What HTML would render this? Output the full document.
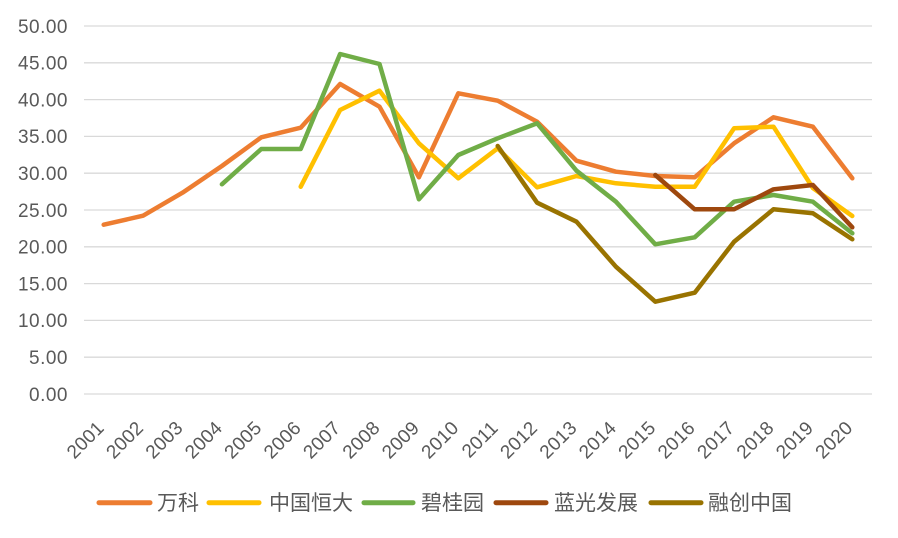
<!DOCTYPE html>
<html>
<head>
<meta charset="utf-8">
<style>
  html,body{margin:0;padding:0;background:#fff;}
  svg{display:block;}
  .yl{font-family:"Liberation Sans",sans-serif;font-size:19px;letter-spacing:0.5px;fill:#595959;text-anchor:end;}
  .xl{font-family:"Liberation Sans",sans-serif;font-size:19px;letter-spacing:0.3px;fill:#595959;text-anchor:end;}
  .lg{font-family:"Liberation Sans","Noto Sans CJK SC",sans-serif;font-size:21px;fill:#595959;}
  .s{fill:none;stroke-width:4.5;stroke-linejoin:round;stroke-linecap:round;}
</style>
</head>
<body>
<svg width="898" height="538" viewBox="0 0 898 538" xmlns="http://www.w3.org/2000/svg">
  <rect width="898" height="538" fill="#fff"/>
  <g stroke="#d9d9d9" stroke-width="1.3">
    <line x1="84" x2="872" y1="394" y2="394"/>
    <line x1="84" x2="872" y1="357.2" y2="357.2"/>
    <line x1="84" x2="872" y1="320.4" y2="320.4"/>
    <line x1="84" x2="872" y1="283.6" y2="283.6"/>
    <line x1="84" x2="872" y1="246.8" y2="246.8"/>
    <line x1="84" x2="872" y1="210" y2="210"/>
    <line x1="84" x2="872" y1="173.2" y2="173.2"/>
    <line x1="84" x2="872" y1="136.4" y2="136.4"/>
    <line x1="84" x2="872" y1="99.6" y2="99.6"/>
    <line x1="84" x2="872" y1="62.8" y2="62.8"/>
    <line x1="84" x2="872" y1="26" y2="26"/>
  </g>
  <g class="yl">
    <text x="68" y="400.8">0.00</text>
    <text x="68" y="364">5.00</text>
    <text x="68" y="327.2">10.00</text>
    <text x="68" y="290.4">15.00</text>
    <text x="68" y="253.6">20.00</text>
    <text x="68" y="216.8">25.00</text>
    <text x="68" y="180">30.00</text>
    <text x="68" y="143.2">35.00</text>
    <text x="68" y="106.4">40.00</text>
    <text x="68" y="69.6">45.00</text>
    <text x="68" y="32.8">50.00</text>
  </g>
  <g class="xl">
    <text x="105.2" y="429" transform="rotate(-45 105.2 429)">2001</text>
    <text x="144.6" y="429" transform="rotate(-45 144.6 429)">2002</text>
    <text x="184" y="429" transform="rotate(-45 184 429)">2003</text>
    <text x="223.4" y="429" transform="rotate(-45 223.4 429)">2004</text>
    <text x="262.8" y="429" transform="rotate(-45 262.8 429)">2005</text>
    <text x="302.2" y="429" transform="rotate(-45 302.2 429)">2006</text>
    <text x="341.6" y="429" transform="rotate(-45 341.6 429)">2007</text>
    <text x="381" y="429" transform="rotate(-45 381 429)">2008</text>
    <text x="420.4" y="429" transform="rotate(-45 420.4 429)">2009</text>
    <text x="459.8" y="429" transform="rotate(-45 459.8 429)">2010</text>
    <text x="499.2" y="429" transform="rotate(-45 499.2 429)">2011</text>
    <text x="538.6" y="429" transform="rotate(-45 538.6 429)">2012</text>
    <text x="578" y="429" transform="rotate(-45 578 429)">2013</text>
    <text x="617.4" y="429" transform="rotate(-45 617.4 429)">2014</text>
    <text x="656.8" y="429" transform="rotate(-45 656.8 429)">2015</text>
    <text x="696.2" y="429" transform="rotate(-45 696.2 429)">2016</text>
    <text x="735.6" y="429" transform="rotate(-45 735.6 429)">2017</text>
    <text x="775" y="429" transform="rotate(-45 775 429)">2018</text>
    <text x="814.4" y="429" transform="rotate(-45 814.4 429)">2019</text>
    <text x="853.8" y="429" transform="rotate(-45 853.8 429)">2020</text>
  </g>
  <polyline class="s" stroke="#ED7D31" points="103.7,224.7 143.1,215.7 182.5,192.7 221.9,166 261.3,137.3 300.7,127.7 340.1,84 379.5,106.7 418.9,177.3 458.3,93.3 497.7,100.7 537.1,121.7 576.5,160.7 615.9,171.7 655.3,176 694.7,177.3 734.1,143.3 773.5,117.3 812.9,126.7 852.3,178.3"/>
  <polyline class="s" stroke="#FFC000" points="300.7,186.7 340.1,110 379.5,90.7 418.9,143.3 458.3,178.3 497.7,148.3 537.1,187.3 576.5,176 615.9,183.3 655.3,186.7 694.7,186.7 734.1,128.3 773.5,126.7 812.9,188 852.3,216"/>
  <polyline class="s" stroke="#70AD47" points="221.9,184.3 261.3,149 300.7,149 340.1,54 379.5,64 418.9,199.3 458.3,155 497.7,138.3 537.1,123.3 576.5,170.7 615.9,201.7 655.3,244.3 694.7,237.3 734.1,201.7 773.5,195 812.9,201.7 852.3,233.3"/>
  <polyline class="s" stroke="#9E480E" points="655.3,175 694.7,209.3 734.1,209.3 773.5,189.3 812.9,185 852.3,227.3"/>
  <polyline class="s" stroke="#997300" points="497.7,146 537.1,202.7 576.5,221.7 615.9,266.7 655.3,301.7 694.7,292.7 734.1,241.7 773.5,209.3 812.9,213.3 852.3,239.3"/>
  <g stroke-width="5" stroke-linecap="round">
    <line x1="99" x2="150" y1="502.7" y2="502.7" stroke="#ED7D31"/>
    <line x1="209" x2="259" y1="502.7" y2="502.7" stroke="#FFC000"/>
    <line x1="364" x2="413" y1="502.7" y2="502.7" stroke="#70AD47"/>
    <line x1="496" x2="546" y1="502.7" y2="502.7" stroke="#9E480E"/>
    <line x1="651" x2="701" y1="502.7" y2="502.7" stroke="#997300"/>
  </g>
  <g class="lg">
    <text x="157" y="510">万科</text>
    <text x="269" y="510">中国恒大</text>
    <text x="421" y="510">碧桂园</text>
    <text x="554" y="510">蓝光发展</text>
    <text x="708" y="510">融创中国</text>
  </g>
</svg>
</body>
</html>
